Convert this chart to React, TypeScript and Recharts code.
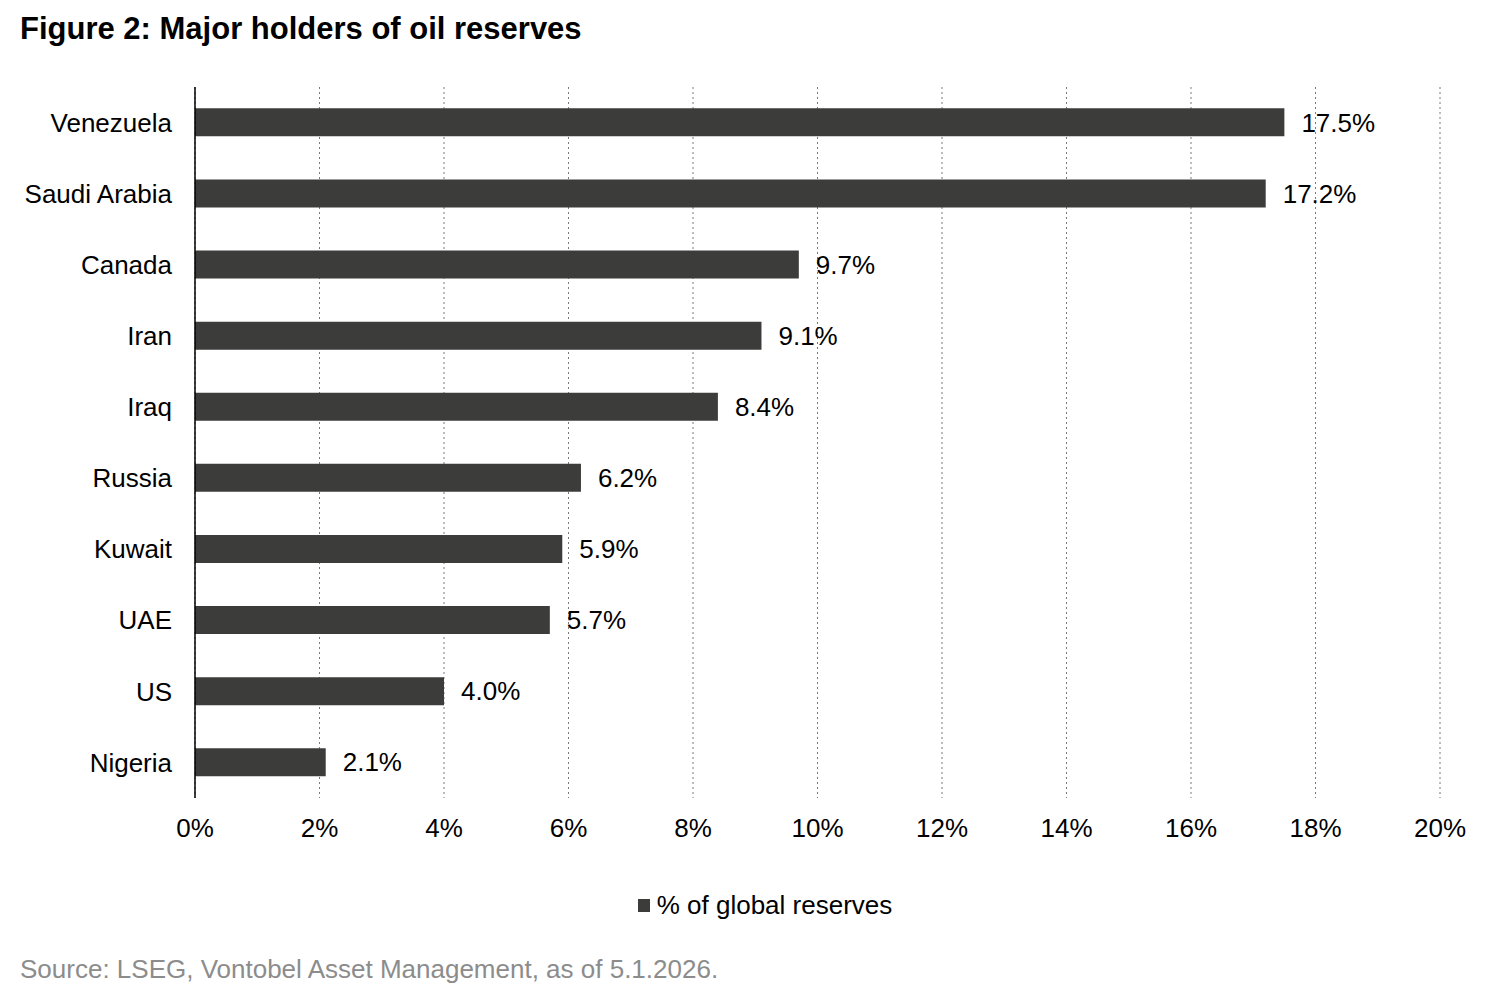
import React from "react";
import { BarChart, Bar, XAxis, YAxis, CartesianGrid, LabelList } from "recharts";

const countries = ["Venezuela", "Saudi Arabia", "Canada", "Iran", "Iraq", "Russia", "Kuwait", "UAE", "US", "Nigeria"];
const shares = [17.5, 17.2, 9.7, 9.1, 8.4, 6.2, 5.9, 5.7, 4.0, 2.1];
const xTicks = [0, 2, 4, 6, 8, 10, 12, 14, 16, 18, 20];
const seriesName = "% of global reserves";
const title = "Figure 2: Major holders of oil reserves";
const source = "Source: LSEG, Vontobel Asset Management, as of 5.1.2026.";

const data = countries.map((c, i) => ({ country: c, value: shares[i] }));

const FONT = "'Liberation Sans', Arial, sans-serif";
const BAR = "#3c3d3a";

export default function App() {
  return (
    <div style={{ position: "absolute", left: 0, top: 0, width: 1500, height: 1000, background: "#fff", fontFamily: FONT }}>
      <div style={{ position: "absolute", left: 20, top: 11, fontSize: 31, fontWeight: "bold", color: "#000", whiteSpace: "nowrap", lineHeight: "36px" }}>
        {title}
      </div>
      <div style={{ position: "absolute", left: 0, top: 0 }}>
        <BarChart
          width={1500}
          height={1000}
          data={data}
          layout="vertical"
          margin={{ top: 87, right: 60, left: 0, bottom: 162 }}
          barCategoryGap="30%"
        >
          <CartesianGrid horizontal={false} strokeDasharray="2 3" stroke="#7a7a7a" />
          <XAxis
            type="number"
            domain={[0, 20]}
            ticks={xTicks}
            tickFormatter={(v: number) => `${v}%`}
            axisLine={false}
            tickLine={false}
            tickMargin={15}
            height={40}
            interval={0}
            tick={{ fill: "#000", fontSize: 26, fontFamily: FONT }}
          />
          <YAxis
            type="category"
            dataKey="country"
            width={195}
            axisLine={{ stroke: "#000", strokeWidth: 1.5 }}
            tickLine={false}
            tickMargin={17}
            interval={0}
            tick={{ fill: "#000", fontSize: 26, fontFamily: FONT }}
          />
          <Bar dataKey="value" name={seriesName} fill={BAR} isAnimationActive={false}>
            <LabelList
              dataKey="value"
              position="right"
              offset={17}
              formatter={(v: number) => `${v.toFixed(1)}%`}
              style={{ fill: "#000", fontSize: 26, fontFamily: FONT }}
            />
          </Bar>
        </BarChart>
      </div>
      <div style={{ position: "absolute", left: 0, width: 1500, top: 890, height: 30, display: "flex", justifyContent: "center", alignItems: "center" }}>
        <div style={{ display: "flex", alignItems: "center", marginLeft: 30 }}>
          <span style={{ display: "inline-block", width: 12, height: 13, background: BAR, marginRight: 7 }} />
          <span style={{ fontSize: 26, color: "#000" }}>{seriesName}</span>
        </div>
      </div>
      <div style={{ position: "absolute", left: 20, top: 954, fontSize: 26, color: "#8c8c8c", whiteSpace: "nowrap", lineHeight: "30px" }}>
        {source}
      </div>
    </div>
  );
}
